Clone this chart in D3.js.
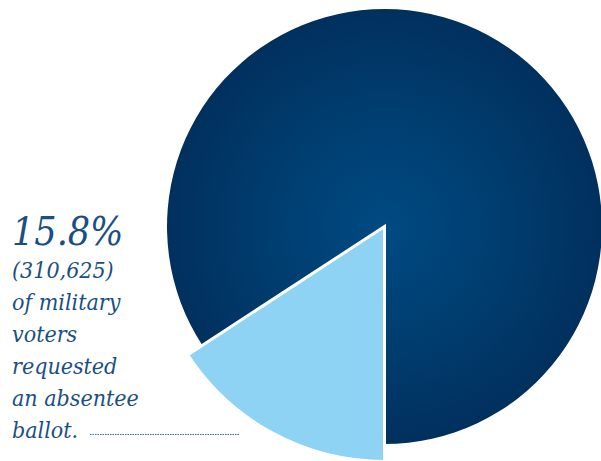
<!DOCTYPE html>
<html>
<head>
<meta charset="utf-8">
<script src="https://cdn.jsdelivr.net/npm/d3@7"></script>
<style>
  html, body { margin: 0; padding: 0; background: #fff; }
  svg { display: block; }
  .note { font-family: "DejaVu Serif Condensed", "DejaVu Serif", serif; font-style: italic; fill: #1b4f82; }
</style>
</head>
<body>
<div id="chart"></div>
<script>
// Military voters: requested absentee ballot vs. not
const categories = ["Requested an absentee ballot", "Did not request"];
const shares = [15.8, 84.2];
const requestedCount = 310625;
const noteLines = ["(310,625)", "of military", "voters", "requested", "an absentee", "ballot."];

const W = 601, H = 461;
const cx = 384.5, cy = 226.5, r = 217.5, rLight = 235;

const svg = d3.select("#chart").append("svg")
  .attr("width", W).attr("height", H);

// gradient is in the slice group's own (translated) coordinates
const defs = svg.append("defs");
const grad = defs.append("radialGradient").attr("id", "darkGrad")
  .attr("gradientUnits", "userSpaceOnUse")
  .attr("cx", 0).attr("cy", 0).attr("r", r);
grad.append("stop").attr("offset", "0%").attr("stop-color", "#004a82");
grad.append("stop").attr("offset", "55%").attr("stop-color", "#003d6f");
grad.append("stop").attr("offset", "100%").attr("stop-color", "#01305e");

const pie = d3.pie().sort(null).startAngle(Math.PI).endAngle(3 * Math.PI);
const arcs = pie(shares);

const g = svg.append("g").attr("transform", `translate(${cx},${cy})`);
const radii = [rLight, r];
const fills = ["#8fd3f4", "url(#darkGrad)"];

// dark slice first, light slice on top with white edge
[1, 0].forEach(i => {
  const arc = d3.arc().innerRadius(0).outerRadius(radii[i]);
  g.append("path")
    .attr("d", arc(arcs[i]))
    .attr("fill", fills[i])
    .attr("stroke", i === 0 ? "#fff" : "none")
    .attr("stroke-width", 3)
    .attr("stroke-linejoin", "miter")
    .append("title").text(`${categories[i]}: ${shares[i]}%`);
});

// annotation
const tx = 12;
svg.append("text").attr("class", "note")
  .attr("x", tx).attr("y", 245)
  .style("font-size", "39px")
  .text(d3.format(".1f")(shares[0]) + "%");

svg.append("g").selectAll("text").data(noteLines).enter().append("text")
  .attr("class", "note")
  .attr("x", tx)
  .attr("y", (_, i) => 278 + i * 32)
  .style("font-size", "23px")
  .text(d => d);

svg.append("line")
  .attr("x1", 90).attr("x2", 240)
  .attr("y1", 434.5).attr("y2", 434.5)
  .attr("stroke", "#3a6ea5").attr("stroke-width", 1)
  .attr("stroke-dasharray", "1.5,1");
</script>
</body>
</html>
